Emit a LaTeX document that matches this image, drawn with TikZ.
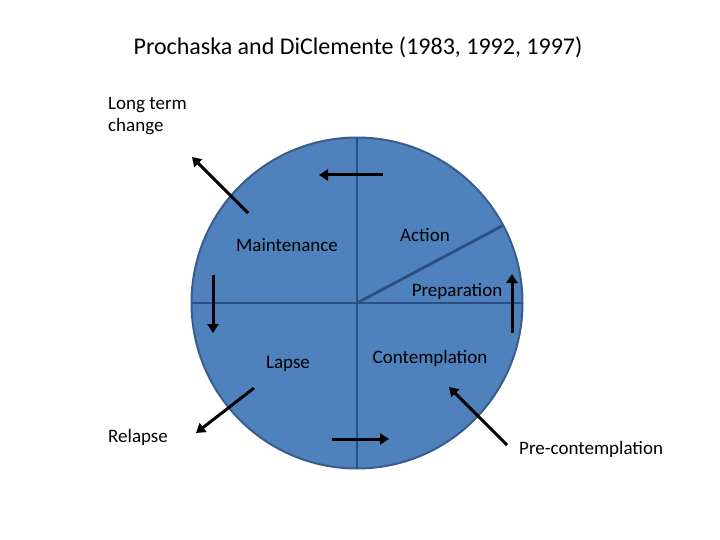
\documentclass[tikz,border=0pt]{standalone}
\usepackage{fontspec}
\setmainfont{Carlito}
\usetikzlibrary{arrows.meta}
\definecolor{cfill}{HTML}{4F81BD}
\definecolor{cline}{HTML}{385D8A}
\definecolor{cdiv}{HTML}{2A4F82}
\tikzset{
  lbl/.style={font=\fontsize{19}{22}\selectfont, inner sep=0pt},
  flow/.style={line width=3pt, -{Triangle[length=9pt,width=11pt]}},
  divider/.style={draw=cdiv, line width=2.8pt},
}
\begin{document}
\begin{tikzpicture}[x=1pt,y=-1pt]
\useasboundingbox (0,0) rectangle (720,540);
% circle
\node[circle, minimum size=331pt, fill=cfill, draw=cline, line width=2pt, inner sep=0pt] (circ) at (357,303) {};
\coordinate (c) at (357,303);
\coordinate (top) at (357,138);
\coordinate (bot) at (357,468);
\coordinate (lft) at (192,303);
\coordinate (rgt) at (522,303);
\coordinate (diag) at (502,226);
\draw[divider] (top) -- (bot);
\draw[divider] (lft) -- (rgt);
\draw[divider] (c) -- (diag);
% title
\node[font=\fontsize{24}{28}\selectfont, inner sep=0pt] (title) at (358,47) {Prochaska and DiClemente (1983, 1992, 1997)};
% labels
\node[lbl, align=left, anchor=west] (ltc) at (108,116) {Long term\\change};
\node[lbl] (maint) at (287,245) {Maintenance};
\node[lbl] (action) at (425,235) {Action};
\node[lbl] (prep) at (457,291) {Preparation};
\node[lbl] (lapse) at (288,364) {Lapse};
\node[lbl] (contemp) at (430,358) {Contemplation};
\node[lbl, anchor=west] (relapse) at (108,437) {Relapse};
\node[lbl, anchor=west] (precon) at (519,449) {Pre-contemplation};
% arrows
\coordinate (a1s) at (248,213); \coordinate (a1e) at (192,157);
\coordinate (a2s) at (383,175); \coordinate (a2e) at (319,175);
\coordinate (a3s) at (213,275); \coordinate (a3e) at (213,333);
\coordinate (a4s) at (254,388); \coordinate (a4e) at (196,433);
\coordinate (a5s) at (332,439); \coordinate (a5e) at (389,439);
\coordinate (a6s) at (507,445); \coordinate (a6e) at (449,387);
\coordinate (a7s) at (512,333); \coordinate (a7e) at (512,274);
\draw[flow] (a1s) -- (a1e);
\draw[flow] (a2s) -- (a2e);
\draw[flow] (a3s) -- (a3e);
\draw[flow] (a4s) -- (a4e);
\draw[flow] (a5s) -- (a5e);
\draw[flow] (a6s) -- (a6e);
\draw[flow] (a7s) -- (a7e);
\end{tikzpicture}
\end{document}
